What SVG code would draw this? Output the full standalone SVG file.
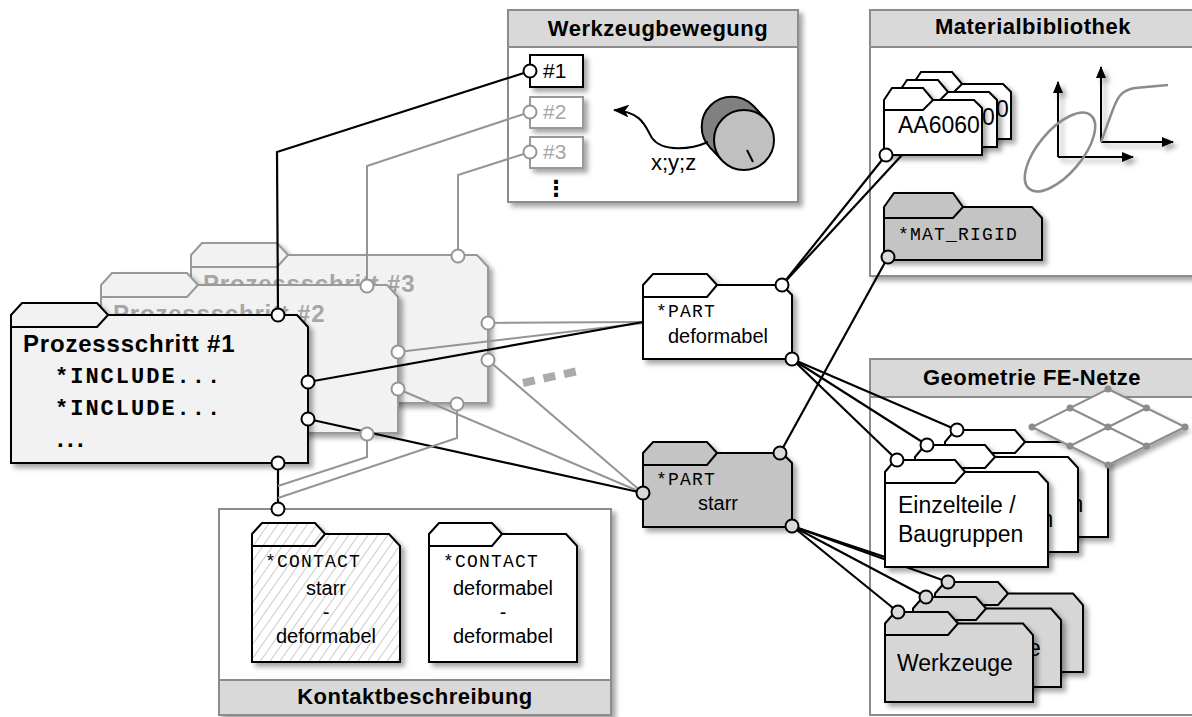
<svg xmlns="http://www.w3.org/2000/svg" width="1192" height="717" viewBox="0 0 1192 717">
  <defs>
    <filter id="shadow" x="-20%" y="-20%" width="150%" height="150%">
      <feDropShadow dx="4" dy="4" stdDeviation="2.5" flood-color="#000" flood-opacity="0.35"/>
    </filter>
    <pattern id="hatch" width="8" height="8" patternUnits="userSpaceOnUse" patternTransform="rotate(35)">
      <rect width="8" height="8" fill="#fff"/>
      <line x1="0" y1="0" x2="0" y2="8" stroke="#b5b5b5" stroke-width="1.4"/>
    </pattern>
    <marker id="arrow" viewBox="0 0 12 10" refX="11" refY="5" markerWidth="12" markerHeight="10" markerUnits="userSpaceOnUse" orient="auto">
      <path d="M0,0 L12,5 L0,10 Z" fill="#000"/>
    </marker>
    <marker id="arrowBig" viewBox="0 0 16 13" refX="15" refY="6.5" markerWidth="16" markerHeight="13" markerUnits="userSpaceOnUse" orient="auto">
      <path d="M0,0 L16,6.5 L0,13 L4,6.5 Z" fill="#000"/>
    </marker>
    <style>
      .box { fill: #fff; stroke: #8c8c8c; stroke-width: 2; }
      .band { fill: #d9d9d9; stroke: #8c8c8c; stroke-width: 2; }
      .title { font-family: "Liberation Sans", Arial, sans-serif; font-weight: bold; font-size: 22px; text-anchor: middle; fill: #000; letter-spacing: 0.5px; }
      .card { stroke: #000; stroke-width: 2; stroke-linejoin: miter; }
      .card-g { stroke: #999; stroke-width: 2; stroke-linejoin: miter; }
      .tab { fill: none; }
      .sans { font-family: "Liberation Sans", Arial, sans-serif; }
      .mono { font-family: "Liberation Mono", "Courier New", monospace; }
      .ln { fill: none; stroke: #000; stroke-width: 2.2; }
      .ln-g { fill: none; stroke: #959595; stroke-width: 2; }
      .port { fill: #fff; stroke: #000; stroke-width: 2; }
      .port-g { fill: #fff; stroke: #959595; stroke-width: 2; }
      .port-d { fill: #d9d9d9; stroke: #000; stroke-width: 2; }
      .lbl { font-family: "Liberation Sans", Arial, sans-serif; font-size: 20px; fill: #000; }
      .code { font-family: "Liberation Mono", "Courier New", monospace; font-size: 18px; letter-spacing: 1.2px; fill: #000; }
    </style>
  </defs>

  <!-- containers -->
  <g id="werkzeugbewegung">
    <rect x="508" y="10" width="290" height="192" class="box" filter="url(#shadow)"/>
    <rect x="508" y="10" width="290" height="37" class="band"/>
    <text x="658" y="36" class="title">Werkzeugbewegung</text>
  </g>
  <g id="materialbibliothek">
    <rect x="870" y="10" width="330" height="266" class="box" filter="url(#shadow)"/>
    <rect x="870" y="10" width="330" height="37" class="band"/>
    <text x="1033" y="34" class="title">Materialbibliothek</text>
  </g>
  <g id="geometrie">
    <rect x="870" y="359" width="330" height="356" class="box"/>
    <rect x="870" y="359" width="330" height="38" class="band"/>
    <text x="1032" y="385" class="title">Geometrie FE-Netze</text>
  </g>
  <g id="kontaktbeschreibung">
    <rect x="219" y="509" width="392" height="206" class="box" filter="url(#shadow)"/>
    <rect x="219" y="680" width="392" height="35" class="band"/>
    <text x="415" y="704" class="title">Kontaktbeschreibung</text>
  </g>

  <!-- tool motion: cylinder and path -->
  <g id="tool-cylinder">
    <circle cx="731.7" cy="126.7" r="30" fill="#808080" stroke="#000" stroke-width="2"/>
    <polygon points="709.7,147.1 722,160.4 766,119.6 753.7,106.3" fill="#808080"/>
    <line x1="709.7" y1="147.1" x2="722" y2="160.4" stroke="#000" stroke-width="2"/>
    <line x1="753.7" y1="106.3" x2="766" y2="119.6" stroke="#000" stroke-width="2"/>
    <circle cx="744" cy="140" r="30" fill="#c0c0c0" stroke="#000" stroke-width="2"/>
    <line x1="747" y1="150" x2="753" y2="162" stroke="#000" stroke-width="2"/>
    <path d="M708,142 C690,150 662,152 652,138 C645,126 642,112 614,110" fill="none" stroke="#000" stroke-width="2" marker-end="url(#arrowBig)"/>
    <text x="651" y="170" class="sans" font-size="22">x;y;z</text>
  </g>

  <g id="motion-1">
    <rect x="530" y="55" width="53" height="32" fill="#fff" stroke="#000" stroke-width="2" filter="url(#shadow)"/>
    <text x="543" y="78" class="sans" font-size="21">#1</text>
  </g>
  <g id="motion-2">
    <rect x="530" y="97" width="53" height="31" fill="#fff" stroke="#999" stroke-width="2" filter="url(#shadow)"/>
    <text x="543" y="119" class="sans" font-size="21" fill="#a6a6a6">#2</text>
  </g>
  <g id="motion-3">
    <rect x="530" y="137" width="53" height="31" fill="#fff" stroke="#999" stroke-width="2" filter="url(#shadow)"/>
    <text x="543" y="159" class="sans" font-size="21" fill="#a6a6a6">#3</text>
  </g>
  <text x="556" y="196" font-family="DejaVu Sans, sans-serif" font-weight="bold" font-size="22" text-anchor="middle">⋮</text>

  <!-- material plots -->
  <g id="material-curves">
    <g filter="url(#shadow)">
      <line x1="1058" y1="157" x2="1058" y2="82" stroke="#000" stroke-width="2" marker-end="url(#arrow)"/>
      <line x1="1058" y1="157" x2="1133" y2="157" stroke="#000" stroke-width="2" marker-end="url(#arrow)"/>
      <line x1="1101" y1="142" x2="1101" y2="67" stroke="#000" stroke-width="2" marker-end="url(#arrow)"/>
      <line x1="1101" y1="142" x2="1173" y2="142" stroke="#000" stroke-width="2" marker-end="url(#arrow)"/>
    </g>
    <ellipse cx="1060" cy="152" rx="48" ry="22" transform="rotate(-50 1060 152)" fill="none" stroke="#8c8c8c" stroke-width="2.5"/>
    <path d="M1101,142 L1112,112 C1117,98 1121,90 1135,88 L1168,85" fill="none" stroke="#8c8c8c" stroke-width="2.5"/>
  </g>

  <!-- process steps in the background -->
  <g id="step3" transform="translate(180,-60)">
    <path class="card-g" fill="#f2f2f2" filter="url(#shadow)" d="M11,315 L22,303 L97,303 L108,315 L297,315 L308,327 L308,463 L11,463 Z"/>
    <path class="card-g tab" d="M11,327 L97,327 L108,315"/>
    <text x="23" y="352" class="sans" font-size="24" font-weight="bold" fill="#a6a6a6" letter-spacing="0.8">Prozessschritt #3</text>
  </g>
  <g id="step2" transform="translate(90,-30)">
    <path class="card-g" fill="#f2f2f2" filter="url(#shadow)" d="M11,315 L22,303 L97,303 L108,315 L297,315 L308,327 L308,463 L11,463 Z"/>
    <path class="card-g tab" d="M11,327 L97,327 L108,315"/>
    <text x="23" y="352" class="sans" font-size="24" font-weight="bold" fill="#a6a6a6" letter-spacing="0.8">Prozessschritt #2</text>
  </g>

  <!-- material cards -->
  <g id="aa6060-3" transform="translate(29,-16)">
    <path class="card" fill="#fff" filter="url(#shadow)" d="M884,100 L892,88 L923,88 L933,100 L974,100 L982,108 L982,155 L884,155 Z"/>
    <path class="card tab" d="M884,110 L923,110 L933,100"/>
    <text x="898" y="133" class="sans" font-size="23">AA6060</text>
  </g>
  <g id="aa6060-2" transform="translate(15,-8)">
    <path class="card" fill="#fff" filter="url(#shadow)" d="M884,100 L892,88 L923,88 L933,100 L974,100 L982,108 L982,155 L884,155 Z"/>
    <path class="card tab" d="M884,110 L923,110 L933,100"/>
    <text x="898" y="133" class="sans" font-size="23">AA6060</text>
  </g>

  <!-- connectors -->
  <g id="connectors">
    <polyline class="ln" points="530,71 277,152 278,315"/>
    <polyline class="ln-g" points="530,112 367,166 367,286"/>
    <polyline class="ln-g" points="530,152 458,175 458,256"/>
    <line class="ln-g" x1="488" y1="323" x2="643" y2="322"/>
    <line class="ln-g" x1="398" y1="352" x2="643" y2="323"/>
    <line class="ln" x1="308" y1="382" x2="643" y2="322"/>
    <line class="ln-g" x1="488" y1="360" x2="643" y2="493"/>
    <line class="ln-g" x1="398" y1="389" x2="643" y2="493"/>
    <line class="ln" x1="308" y1="419" x2="643" y2="493"/>
    <line class="ln" x1="278" y1="463" x2="278" y2="509"/>
    <polyline class="ln-g" points="367,434 367,457 278,486"/>
    <polyline class="ln-g" points="457,404 457,438 278,498"/>
    <line x1="523" y1="383" x2="578" y2="371" stroke="#aaa" stroke-width="8" stroke-dasharray="12 9"/>
    <line class="ln" x1="782" y1="285" x2="886" y2="155"/>
    <line class="ln" x1="782" y1="285" x2="902" y2="155"/>
    <line class="ln" x1="780" y1="453" x2="888" y2="257"/>
    <line class="ln" x1="792" y1="359" x2="957" y2="430"/>
    <line class="ln" x1="792" y1="359" x2="927" y2="445"/>
    <line class="ln" x1="792" y1="359" x2="897" y2="460"/>
    <line class="ln" x1="792" y1="526" x2="900" y2="562"/>
    <line class="ln" x1="792" y1="526" x2="948" y2="582"/>
    <line class="ln" x1="792" y1="526" x2="926" y2="597"/>
    <line class="ln" x1="792" y1="526" x2="898" y2="612"/>
  </g>

  <!-- front process step -->
  <g id="step1">
    <path class="card" fill="#f2f2f2" filter="url(#shadow)" d="M11,315 L22,303 L97,303 L108,315 L297,315 L308,327 L308,463 L11,463 Z"/>
    <path class="card tab" d="M11,327 L97,327 L108,315"/>
    <text x="23" y="352" class="sans" font-size="24" font-weight="bold" letter-spacing="0.8">Prozessschritt #1</text>
    <text x="55" y="383" class="mono" font-size="22" font-weight="bold" letter-spacing="2">*INCLUDE...</text>
    <text x="55" y="415" class="mono" font-size="22" font-weight="bold" letter-spacing="2">*INCLUDE...</text>
    <text x="57" y="447" class="sans" font-size="24" font-weight="bold" letter-spacing="3.3">...</text>
  </g>

  <!-- parts -->
  <g id="part-deformabel">
    <path class="card" fill="#fff" filter="url(#shadow)" d="M643,285 L653,274 L707,274 L717,285 L782,285 L792,295 L792,359 L643,359 Z"/>
    <path class="card tab" d="M643,297 L707,297 L717,285"/>
    <text x="656" y="317" class="code">*PART</text>
    <text x="718" y="343" class="lbl" text-anchor="middle">deformabel</text>
  </g>
  <g id="part-starr">
    <path class="card" fill="#c4c4c4" filter="url(#shadow)" d="M643,453 L653,442 L707,442 L717,453 L782,453 L792,463 L792,527 L643,527 Z"/>
    <path class="card tab" d="M643,465 L707,465 L717,453"/>
    <text x="656" y="485" class="code">*PART</text>
    <text x="718" y="510" class="lbl" text-anchor="middle">starr</text>
  </g>

  <!-- contact definitions -->
  <g id="contact-starr-deformabel">
    <path class="card" fill="url(#hatch)" filter="url(#shadow)" d="M252,534 L262,523 L315,523 L325,534 L389,534 L400,546 L400,662 L252,662 Z"/>
    <path class="card tab" d="M252,546 L315,546 L325,534"/>
    <text x="265" y="567" class="code">*CONTACT</text>
    <text x="326" y="595" class="lbl" text-anchor="middle">starr</text>
    <text x="326" y="619" class="lbl" text-anchor="middle">-</text>
    <text x="326" y="643" class="lbl" text-anchor="middle">deformabel</text>
  </g>
  <g id="contact-deformabel-deformabel" transform="translate(177,0)">
    <path class="card" fill="#fff" filter="url(#shadow)" d="M252,534 L262,523 L315,523 L325,534 L389,534 L400,546 L400,662 L252,662 Z"/>
    <path class="card tab" d="M252,546 L315,546 L325,534"/>
    <text x="266" y="567" class="code">*CONTACT</text>
    <text x="326" y="595" class="lbl" text-anchor="middle">deformabel</text>
    <text x="326" y="619" class="lbl" text-anchor="middle">-</text>
    <text x="326" y="643" class="lbl" text-anchor="middle">deformabel</text>
  </g>

  <!-- material cards, front -->
  <g id="aa6060">
    <path class="card" fill="#fff" filter="url(#shadow)" d="M884,100 L892,88 L923,88 L933,100 L974,100 L982,108 L982,155 L884,155 Z"/>
    <path class="card tab" d="M884,110 L923,110 L933,100"/>
    <text x="898" y="133" class="sans" font-size="23">AA6060</text>
  </g>
  <g id="mat-rigid">
    <path class="card" fill="#c4c4c4" filter="url(#shadow)" d="M884,207 L894,193 L953,193 L963,207 L1032,207 L1042,218 L1042,260 L884,260 Z"/>
    <path class="card tab" d="M884,218 L953,218 L963,207"/>
    <text x="898" y="240" class="code" letter-spacing="1.7">*MAT_RIGID</text>
  </g>

  <!-- geometry: parts / assemblies -->
  <g id="parts-3" transform="translate(60,-30)">
    <path class="card" fill="#fff" filter="url(#shadow)" d="M885,472 L895,460 L955,460 L965,472 L1038,472 L1048,483 L1048,567 L885,567 Z"/>
    <path class="card tab" d="M885,483 L955,483 L965,472"/>
    <text x="898" y="513" class="sans" font-size="23">Einzelteile /</text>
    <text x="898" y="542" class="sans" font-size="23">Baugruppen</text>
  </g>
  <g id="fe-mesh">
    <path d="M1108,389 L1185,427 L1108,465 L1032,427 Z" fill="#fff" stroke="#8c8c8c" stroke-width="2" filter="url(#shadow)"/>
    <path d="M1070,408 L1146.5,446 M1146.5,408 L1070,446" stroke="#8c8c8c" stroke-width="2" fill="none"/>
    <g fill="#8c8c8c">
      <circle cx="1108" cy="389" r="3.5"/><circle cx="1185" cy="427" r="3.5"/>
      <circle cx="1108" cy="465" r="3.5"/><circle cx="1032" cy="427" r="3.5"/>
      <circle cx="1108" cy="427" r="3.5"/><circle cx="1070" cy="408" r="3.5"/>
      <circle cx="1146.5" cy="408" r="3.5"/><circle cx="1070" cy="446" r="3.5"/>
      <circle cx="1146.5" cy="446" r="3.5"/>
    </g>
  </g>
  <g id="parts-2" transform="translate(30,-15)">
    <path class="card" fill="#fff" filter="url(#shadow)" d="M885,472 L895,460 L955,460 L965,472 L1038,472 L1048,483 L1048,567 L885,567 Z"/>
    <path class="card tab" d="M885,483 L955,483 L965,472"/>
    <text x="898" y="513" class="sans" font-size="23">Einzelteile /</text>
    <text x="898" y="542" class="sans" font-size="23">Baugruppen</text>
  </g>
  <g id="parts-1">
    <path class="card" fill="#fff" filter="url(#shadow)" d="M885,472 L895,460 L955,460 L965,472 L1038,472 L1048,483 L1048,567 L885,567 Z"/>
    <path class="card tab" d="M885,483 L955,483 L965,472"/>
    <text x="898" y="513" class="sans" font-size="23">Einzelteile /</text>
    <text x="898" y="542" class="sans" font-size="23">Baugruppen</text>
  </g>

  <!-- geometry: tools -->
  <g id="tools-3" transform="translate(50,-30)">
    <path class="card" fill="#d6d6d6" filter="url(#shadow)" d="M885,623.5 L895,612 L948,612 L958,623.5 L1023,623.5 L1033,635 L1033,702 L885,702 Z"/>
    <path class="card tab" d="M885,635 L948,635 L958,623.5"/>
    <text x="897" y="671" class="sans" font-size="23">Werkzeuge</text>
  </g>
  <g id="tools-2" transform="translate(28,-15)">
    <path class="card" fill="#d6d6d6" filter="url(#shadow)" d="M885,623.5 L895,612 L948,612 L958,623.5 L1023,623.5 L1033,635 L1033,702 L885,702 Z"/>
    <path class="card tab" d="M885,635 L948,635 L958,623.5"/>
    <text x="897" y="671" class="sans" font-size="23">Werkzeuge</text>
  </g>
  <g id="tools-1">
    <path class="card" fill="#d6d6d6" filter="url(#shadow)" d="M885,623.5 L895,612 L948,612 L958,623.5 L1023,623.5 L1033,635 L1033,702 L885,702 Z"/>
    <path class="card tab" d="M885,635 L948,635 L958,623.5"/>
    <text x="897" y="671" class="sans" font-size="23">Werkzeuge</text>
  </g>

  <!-- connection ports -->
  <g id="ports">
    <circle class="port" cx="530" cy="71" r="6.5"/>
    <circle class="port-g" cx="530" cy="112" r="6.5"/>
    <circle class="port-g" cx="530" cy="152" r="6.5"/>
    <circle class="port-g" cx="458" cy="256" r="6.5"/>
    <circle class="port-g" cx="488" cy="323" r="6.5"/>
    <circle class="port-g" cx="488" cy="360" r="6.5"/>
    <circle class="port-g" cx="457" cy="404" r="6.5"/>
    <circle class="port-g" cx="367" cy="286" r="6.5"/>
    <circle class="port-g" cx="398" cy="352" r="6.5"/>
    <circle class="port-g" cx="398" cy="389" r="6.5"/>
    <circle class="port-g" cx="367" cy="434" r="6.5"/>
    <circle class="port" cx="278" cy="315" r="6.5"/>
    <circle class="port" cx="308" cy="382" r="6.5"/>
    <circle class="port" cx="308" cy="419" r="6.5"/>
    <circle class="port" cx="278" cy="463" r="6.5"/>
    <circle class="port" cx="278" cy="509" r="6.5"/>
    <circle class="port" cx="782" cy="285" r="6.5"/>
    <circle class="port" cx="792" cy="359" r="6.5"/>
    <circle class="port-d" cx="780" cy="453" r="6.5"/>
    <circle class="port-d" cx="643" cy="493" r="6.5"/>
    <circle class="port-d" cx="792" cy="526" r="6.5"/>
    <circle class="port" cx="886" cy="155" r="6.5"/>
    <circle class="port-d" cx="888" cy="257" r="6.5"/>
    <circle class="port" cx="957" cy="430" r="6.5"/>
    <circle class="port" cx="927" cy="445" r="6.5"/>
    <circle class="port" cx="897" cy="460" r="6.5"/>
    <circle class="port-d" cx="948" cy="582" r="6.5"/>
    <circle class="port-d" cx="926" cy="597" r="6.5"/>
    <circle class="port-d" cx="898" cy="612" r="6.5"/>
  </g>
</svg>
